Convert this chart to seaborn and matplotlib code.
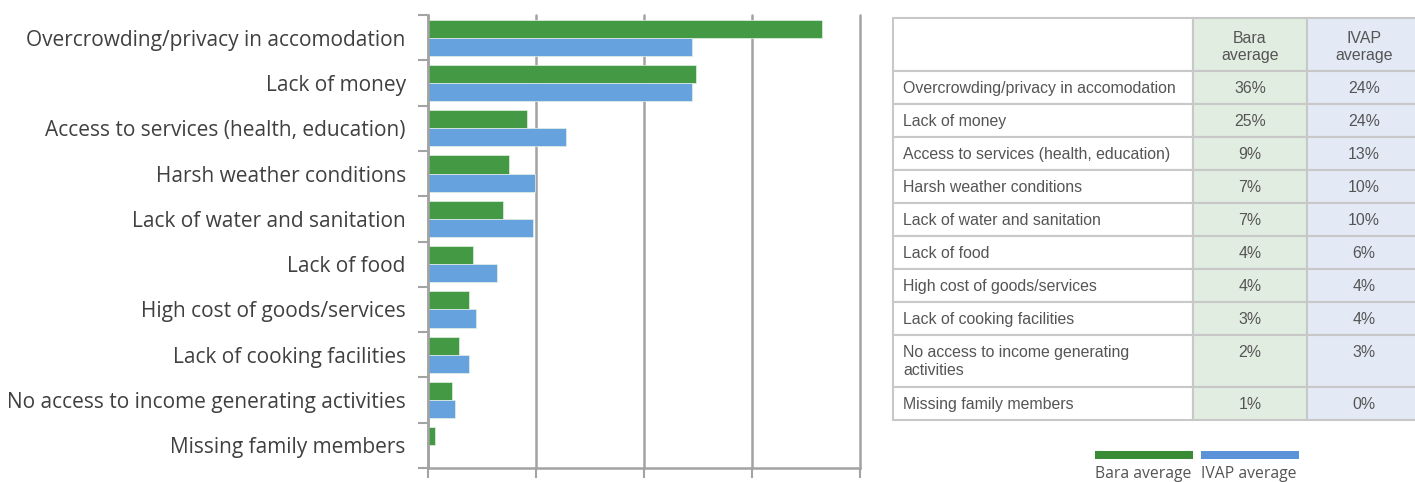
import matplotlib.pyplot as plt
import seaborn as sns
import pandas as pd
from matplotlib.patches import Rectangle
from matplotlib.ticker import MultipleLocator

categories = [
    "Overcrowding/privacy in accomodation",
    "Lack of money",
    "Access to services (health, education)",
    "Harsh weather conditions",
    "Lack of water and sanitation",
    "Lack of food",
    "High cost of goods/services",
    "Lack of cooking facilities",
    "No access to income generating activities",
    "Missing family members",
]
table_labels = categories[:8] + ["No access to income generating\nactivities", categories[9]]
bara = [36.5, 24.8, 9.2, 7.5, 6.9, 4.2, 3.8, 2.9, 2.2, 0.6]
ivap = [24.4, 24.4, 12.8, 9.9, 9.7, 6.4, 4.4, 3.8, 2.5, 0.0]
bara_table = ["36%", "25%", "9%", "7%", "7%", "4%", "4%", "3%", "2%", "1%"]
ivap_table = ["24%", "24%", "13%", "10%", "10%", "6%", "4%", "4%", "3%", "0%"]
series = ["Bara average", "IVAP average"]

green = "#449a44"
blue = "#66a2dd"
grey = "#a3a3a3"
text_col = "#404040"

df = pd.DataFrame({
    "category": categories * 2,
    "value": bara + ivap,
    "series": [series[0]] * len(categories) + [series[1]] * len(categories),
})

sns.set_style("white")
plt.rcParams["font.family"] = ["Open Sans", "DejaVu Sans"]

fig = plt.figure(figsize=(14.15, 4.82), dpi=100)
ax = fig.add_axes([0.3025, 0.029, 0.3053, 0.9398])
sns.barplot(data=df, x="value", y="category", hue="series", orient="h",
            palette=[green, blue], saturation=1, width=0.8, ax=ax, legend=False,
            edgecolor="#e4f0e4", linewidth=0.5)

ax.set_xlim(0, 40)
ax.set_ylim(9.5, -0.5)
ax.xaxis.set_major_locator(MultipleLocator(10))
ax.set_xticklabels([])
ax.tick_params(axis="x", bottom=True, length=7, width=1.5, color=grey)
ax.grid(axis="x", color=grey, lw=1.8)
ax.grid(axis="y", visible=False)
ax.set_axisbelow(True)
for gl in ax.get_xgridlines():
    gl.set_clip_on(False)

ax.set_yticks(range(len(categories)))
ax.set_yticklabels(categories, fontsize=15, color=text_col)
ax.tick_params(axis="y", which="major", length=0, pad=16)
ax.set_yticks([i - 0.5 for i in range(len(categories) + 1)], minor=True)
ax.tick_params(axis="y", which="minor", length=7, width=1.5, color=grey, left=True)
ax.set_xlabel("")
ax.set_ylabel("")
for s in ["top", "right"]:
    ax.spines[s].set_visible(False)
for s in ["left", "bottom"]:
    ax.spines[s].set_color(grey)
    ax.spines[s].set_linewidth(1.8)

# table on the right, drawn in pixel coordinates
tx = fig.add_axes([0, 0, 1, 1])
tx.set_xlim(0, 1415)
tx.set_ylim(482, 0)
tx.axis("off")

border = "#c8c8c8"
col_edges = [893, 1193, 1307, 1425]
fills = ["white", "#e2ede1", "#e3eaf6"]
tfont = ["Liberation Sans", "DejaVu Sans"]
tcol = "#555555"
tsize = 11.4

row_heights = [53] + [52 if "\n" in lab else 33 for lab in table_labels]
y = 18
rows = [["", "Bara\naverage", "IVAP\naverage"]] + [
    [lab, b, v] for lab, b, v in zip(table_labels, bara_table, ivap_table)
]
for r, (row, h) in enumerate(zip(rows, row_heights)):
    for c in range(3):
        x0, x1 = col_edges[c], col_edges[c + 1]
        tx.add_patch(Rectangle((x0, y), x1 - x0, h, facecolor=fills[c],
                               edgecolor=border, lw=1.5))
        txt = row[c]
        if not txt:
            continue
        xt = x0 + 10 if c == 0 else (x0 + x1) / 2 if c == 1 else 1364
        ha = "left" if c == 0 else "center"
        if r == 0:
            tx.text(xt, y + 29, txt, ha=ha, va="center", fontsize=tsize,
                    color=tcol, family=tfont, linespacing=1.2)
        elif h > 40:
            tx.text(xt, y + 10, row[c], ha=ha, va="top", fontsize=tsize,
                    color=tcol, family=tfont, linespacing=1.25)
        else:
            tx.text(xt, y + h / 2 + 1, txt, ha=ha, va="center",
                    fontsize=tsize, color=tcol, family=tfont)
    y += h

# legend below the table
leg_colors = ["#3a8b36", "#5b93d8"]
leg_x = [1095, 1201]
for lx, lc, name in zip(leg_x, leg_colors, series):
    tx.add_patch(Rectangle((lx, 451), 98, 8, facecolor=lc, edgecolor="none"))
    tx.text(lx + 48, 474, name, ha="center", va="center", fontsize=11.3,
            color=tcol)

fig.savefig("out.png", dpi=100)
